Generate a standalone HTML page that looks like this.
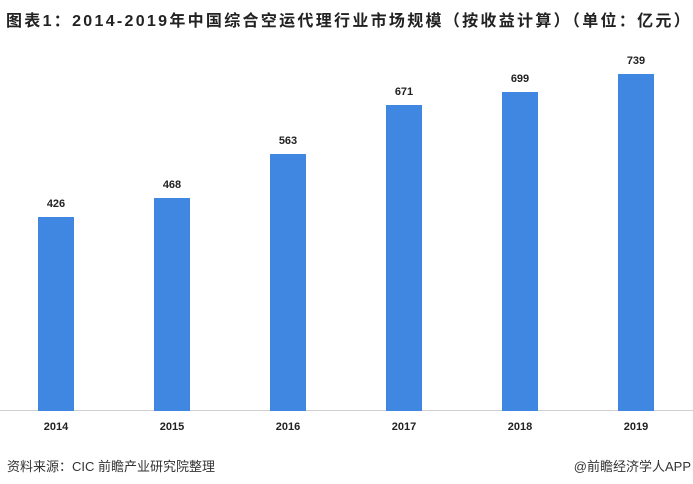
<!DOCTYPE html>
<html><head><meta charset="utf-8"><style>
body{margin:0;width:693px;height:484px;background:#fff;position:relative;overflow:hidden;font-family:"Liberation Sans","Noto Sans CJK SC",sans-serif}
.t{position:absolute;left:6px;top:7px;font-size:16px;letter-spacing:2.3px;font-weight:bold;color:#222;white-space:nowrap}
.bar{position:absolute;width:36px;background:#3f87e0;bottom:73px}
.v{position:absolute;width:60px;text-align:center;font-size:11px;font-weight:bold;color:#222}
.y{position:absolute;top:421px;width:60px;text-align:center;font-size:11px;font-weight:bold;color:#222}
.f{position:absolute;top:456px;font-size:13px;color:#333}
</style></head><body>
<div class="t">图表1：2014-2019年中国综合空运代理行业市场规模（按收益计算）（单位：亿元）</div>
<div style="position:absolute;left:0;top:410px;width:693px;height:1px;background:#d0d0d0"></div>
<div class="bar" style="left:38px;top:217px"></div>
<div class="bar" style="left:154px;top:198px"></div>
<div class="bar" style="left:270px;top:154px"></div>
<div class="bar" style="left:386px;top:105px"></div>
<div class="bar" style="left:502px;top:92px"></div>
<div class="bar" style="left:618px;top:74px"></div>
<div class="v" style="left:26px;top:198px">426</div>
<div class="v" style="left:142px;top:179px">468</div>
<div class="v" style="left:258px;top:135px">563</div>
<div class="v" style="left:374px;top:86px">671</div>
<div class="v" style="left:490px;top:73px">699</div>
<div class="v" style="left:606px;top:55px">739</div>
<div class="y" style="left:26px">2014</div>
<div class="y" style="left:142px">2015</div>
<div class="y" style="left:258px">2016</div>
<div class="y" style="left:374px">2017</div>
<div class="y" style="left:490px">2018</div>
<div class="y" style="left:606px">2019</div>
<div class="f" style="left:7px">资料来源：CIC  前瞻产业研究院整理</div>
<div class="f" style="right:2px">@前瞻经济学人APP</div>
</body></html>
